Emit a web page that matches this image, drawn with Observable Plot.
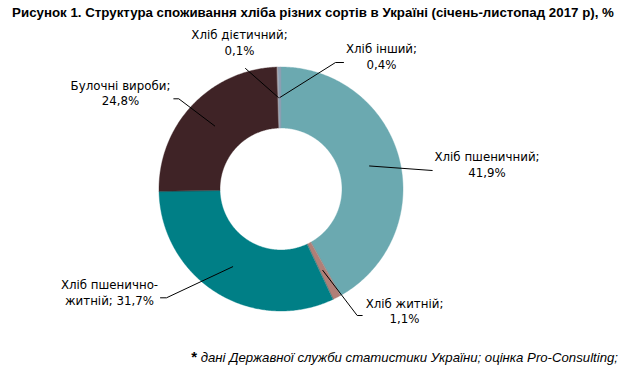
<!DOCTYPE html>
<html><head><meta charset="utf-8">
<script src="https://cdn.jsdelivr.net/npm/d3@7"></script>
<script src="https://cdn.jsdelivr.net/npm/@observablehq/plot@0.6"></script>
<style>
body{margin:0;background:#fff;width:626px;height:371px;position:relative;overflow:hidden}
#title{position:absolute;left:0;top:5px;width:626px;text-align:center;font:bold 13.3px "Liberation Sans",Arial,sans-serif;color:#000;white-space:nowrap}
#note{position:absolute;right:8px;top:348px;font:italic 13.2px "Liberation Sans",Arial,sans-serif;color:#000;white-space:nowrap}
#note b{font-style:normal;font-size:15px}
#chart{position:absolute;left:0;top:0}
</style></head>
<body>
<div id="chart"></div>
<div id="title">Рисунок 1. Структура споживання хліба різних сортів в Україні (січень-листопад 2017 р), %</div>
<div id="note"><b>*</b> дані Державної служби статистики України; оцінка Pro-Consulting;</div>
<script>
// Data
const names = ["Хліб пшеничний", "Хліб житній", "Хліб пшенично-житній", "Булочні вироби", "Хліб дієтичний", "Хліб інший"];
const values = [41.9, 1.1, 31.7, 24.8, 0.1, 0.4];
const labels = ["Хліб пшеничний;\n41,9%", "Хліб житній;\n1,1%", "Хліб пшенично-\nжитній; 31,7%", "Булочні вироби;\n24,8%", "Хліб дієтичний;\n0,1%", "Хліб інший;\n0,4%"];
const colors = ["#6BA9B0", "#B07F77", "#007F86", "#3F2326", "#B7AAAA", "#8C9FB2"];

// Layout (pixels)
const W = 626, H = 371;
const cx = 280.5, cy = 188.5, rOuter = 122, rInner = 61;
const labelPos = [[486.5, 163.5], [404, 310], [109, 291.5], [120, 92], [239, 41.5], [381, 55.5]];
const leaderStart = [
  [[431.7, 170]],
  [[361.7, 315], [356.7, 315]],
  [[160, 297.3], [166, 297.3]],
  [[173.3, 98.3], [178.3, 98.3]],
  [[245, 68]],
  [[343, 62], [335, 62]]
];

const arcs = d3.pie().sort(null).value(d => d)(values);
const polar = (a, r) => [cx + r * Math.sin(a), cy - r * Math.cos(a)];

// Slice polygons
const poly = [];
arcs.forEach((a, i) => {
  const n = Math.max(2, Math.ceil((a.endAngle - a.startAngle) / 0.01));
  for (let k = 0; k <= n; k++) {
    const t = a.startAngle + (a.endAngle - a.startAngle) * k / n;
    const [x, y] = polar(t, rOuter);
    poly.push({name: names[i], x, y});
  }
  for (let k = n; k >= 0; k--) {
    const t = a.startAngle + (a.endAngle - a.startAngle) * k / n;
    const [x, y] = polar(t, rInner);
    poly.push({name: names[i], x, y});
  }
});

// Leader lines
const leaders = [];
arcs.forEach((a, i) => {
  const mid = (a.startAngle + a.endAngle) / 2;
  const c = polar(mid, (rOuter + rInner) / 2);
  [...leaderStart[i], c].forEach(([x, y]) => leaders.push({name: names[i], x, y}));
});

const textData = names.map((n, i) => ({name: n, label: labels[i], x: labelPos[i][0], y: labelPos[i][1]}));

const plot = Plot.plot({
  width: W, height: H,
  margin: 0,
  x: {domain: [0, W], range: [0, W], axis: null},
  y: {domain: [0, H], range: [0, H], axis: null},
  color: {domain: names, range: colors},
  style: {background: "transparent", overflow: "visible"},
  marks: [
    Plot.line(poly, {x: "x", y: "y", z: "name", fill: "name", stroke: "name", strokeWidth: 0.4, curve: "linear-closed"}),
    Plot.line(leaders, {x: "x", y: "y", z: "name", stroke: "#000", strokeWidth: 1, curve: "linear"}),
    Plot.text(textData, {x: "x", y: "y", text: "label", fill: "#000", fontSize: 11.8, fontFamily: "DejaVu Sans", lineHeight: 1.3, lineAnchor: "middle", textAnchor: "middle"})
  ]
});
document.getElementById("chart").appendChild(plot);
</script>
</body></html>
